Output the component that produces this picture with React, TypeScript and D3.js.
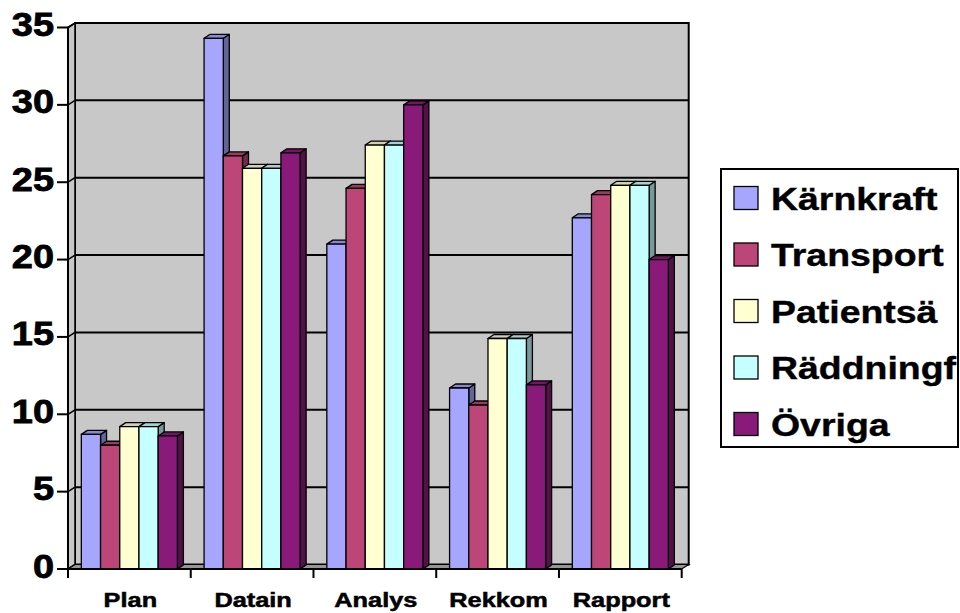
import React from "react";
import * as d3 from "d3";

// Survey results per area, one series per sector
const categories = ["Plan", "Datain", "Analys", "Rekkom", "Rapport"];
const seriesNames = ["Kärnkraft", "Transport", "Patientsä", "Räddningf", "Övriga"];
const karnkraft = [8.7, 34.3, 21.0, 11.7, 22.7];
const transport = [8.0, 26.7, 24.6, 10.6, 24.2];
const patientsa = [9.2, 25.9, 27.4, 14.9, 24.8];
const raddningf = [9.2, 25.9, 27.4, 14.9, 24.8];
const ovriga = [8.6, 26.9, 30.0, 11.9, 20.0];
const seriesValues = [karnkraft, transport, patientsa, raddningf, ovriga];
const seriesColors = ["#A6A6FF", "#BC4677", "#FFFFD2", "#C6FFFF", "#8A1A7A"];
const yTicks = [0, 5, 10, 15, 20, 25, 30, 35];

const W = 960;
const H = 613;
const FONT = "'Liberation Sans', Arial, sans-serif";

// plot frame (front plane) and wall depth
const left = 68;
const right = 681.7;
const bottom = 569;
const top = 27.5;
const DX = 7;
const DY = -4.5;
// bar depth
const BDX = 6;
const BDY = -4;

export default function App() {
  const y = d3.scaleLinear().domain([0, 35]).range([bottom, top]);
  const x = d3.scaleBand<string>().domain(categories).range([left, right]).padding(0);
  const xs = d3
    .scaleBand<number>()
    .domain(d3.range(seriesNames.length))
    .range([0, x.bandwidth()])
    .paddingInner(0)
    .paddingOuter(0.695);

  const shade = (c: string, k: number) => {
    const col = d3.rgb(c);
    return d3.rgb(col.r * k, col.g * k, col.b * k).formatHex();
  };

  const poly = (pts: [number, number][]) => pts.map((p) => p.join(",")).join(" ");
  const y0 = y(0);

  const bars: React.ReactNode[] = [];
  categories.forEach((cat, ci) => {
    seriesValues.forEach((vals, si) => {
      const v = vals[ci];
      const bx = (x(cat) as number) + (xs(si) as number);
      const bw = xs.bandwidth();
      const yv = y(v);
      const c = seriesColors[si];
      bars.push(
        <g key={`${ci}-${si}`} stroke="#000" strokeWidth={1.3} strokeLinejoin="round">
          <polygon
            points={poly([
              [bx + bw, yv],
              [bx + bw + BDX, yv + BDY],
              [bx + bw + BDX, y0 + BDY],
              [bx + bw, y0],
            ])}
            fill={shade(c, 0.6)}
          />
          <polygon
            points={poly([
              [bx, yv],
              [bx + BDX, yv + BDY],
              [bx + bw + BDX, yv + BDY],
              [bx + bw, yv],
            ])}
            fill={shade(c, 0.82)}
          />
          <rect x={bx} y={yv} width={bw} height={y0 - yv} fill={c} />
        </g>
      );
    });
  });

  const legendX = 721;
  const legendY = 169;
  const rowH = 56.5;

  return (
    <svg
      width={W}
      height={H}
      viewBox={`0 0 ${W} ${H}`}
      style={{ position: "absolute", left: 0, top: 0, background: "#fff" }}
    >
      {/* walls and floor */}
      <rect
        x={left + DX}
        y={top + DY}
        width={right - left}
        height={bottom - top}
        fill="#C8C8C8"
        stroke="#000"
        strokeWidth={2}
      />
      <polygon
        points={poly([
          [left, bottom],
          [left, top],
          [left + DX, top + DY],
          [left + DX, bottom + DY],
        ])}
        fill="#C8C8C8"
        stroke="#000"
        strokeWidth={1.5}
      />
      <polygon
        points={poly([
          [left, bottom],
          [right, bottom],
          [right + DX, bottom + DY],
          [left + DX, bottom + DY],
        ])}
        fill="#969696"
        stroke="#000"
        strokeWidth={1.2}
      />
      {/* gridlines */}
      {yTicks
        .filter((t) => t > 0)
        .map((t) => (
          <g key={`g${t}`} stroke="#000" strokeWidth={2}>
            <line x1={left + DX} x2={right + DX} y1={y(t) + DY} y2={y(t) + DY} />
            <line x1={left} x2={left + DX} y1={y(t)} y2={y(t) + DY} strokeWidth={1.5} />
          </g>
        ))}

      {bars}

      {/* axes */}
      <line x1={left} x2={left} y1={bottom} y2={top} stroke="#000" strokeWidth={2} />
      <line x1={left} x2={right} y1={bottom} y2={bottom} stroke="#000" strokeWidth={2} />
      {yTicks.map((t) => (
        <g key={`yt${t}`}>
          <line x1={57} x2={left} y1={y(t)} y2={y(t)} stroke="#000" strokeWidth={2} />
          <text
            transform={`translate(54,${y(t) + 8.5}) scale(1.15,1)`}
            textAnchor="end"
            fontFamily={FONT}
            fontWeight="bold"
            fontSize={33}
            fill="#000"
            stroke="#000"
            strokeWidth={0.8}
          >
            {t}
          </text>
        </g>
      ))}
      {[...categories.map((c) => x(c) as number), right].map((bx, i) => (
        <line key={`xt${i}`} x1={bx} x2={bx} y1={bottom} y2={bottom + 9} stroke="#000" strokeWidth={2} />
      ))}
      {categories.map((c) => (
        <text
          key={`xl${c}`}
          transform={`translate(${(x(c) as number) + x.bandwidth() / 2 + 1},607) scale(1.3,1)`}
          textAnchor="middle"
          fontFamily={FONT}
          fontWeight="bold"
          fontSize={19.5}
          fill="#000"
          stroke="#000"
          strokeWidth={0.5}
        >
          {c}
        </text>
      ))}

      {/* legend */}
      <rect x={legendX} y={legendY} width={237} height={278} fill="#fff" stroke="#000" strokeWidth={2} />
      {seriesNames.map((name, i) => {
        const base = 209.5 + i * rowH;
        return (
          <g key={`lg${name}`}>
            <rect x={734} y={base - 23} width={24} height={23} fill={seriesColors[i]} stroke="#000" strokeWidth={1.3} />
            <text
              transform={`translate(771,${base}) scale(1.17,1)`}
              fontFamily={FONT}
              fontWeight="bold"
              fontSize={32}
              fill="#000"
              stroke="#000"
              strokeWidth={0.4}
            >
              {name}
            </text>
          </g>
        );
      })}
    </svg>
  );
}
